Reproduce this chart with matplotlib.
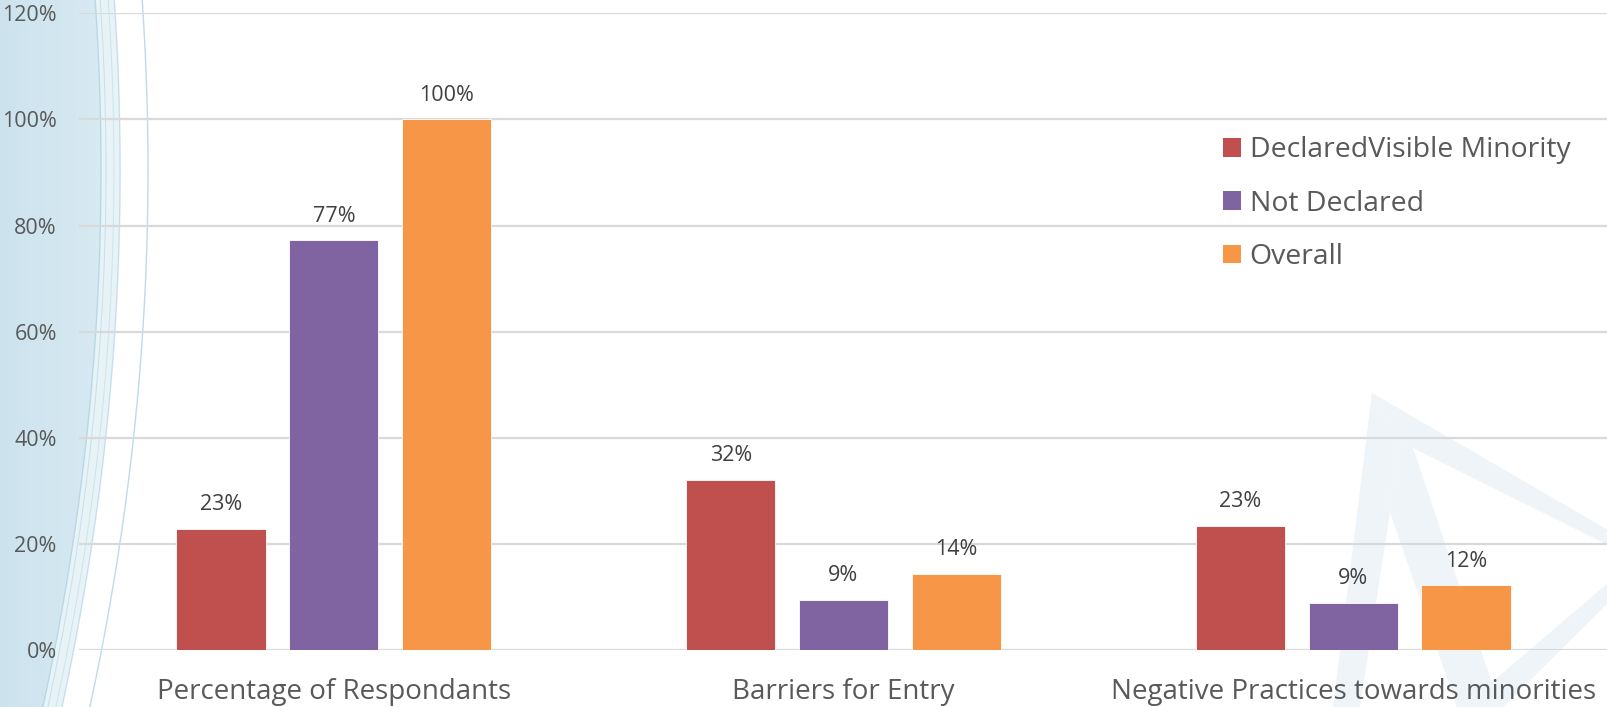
import numpy as np
import matplotlib.pyplot as plt
from matplotlib.patches import Polygon, Patch
from matplotlib.colors import LinearSegmentedColormap

plt.rcParams['font.family'] = ['Open Sans', 'DejaVu Sans']

categories = ["Percentage of Respondants", "Barriers for Entry",
              "Negative Practices towards minorities"]
series_names = ["DeclaredVisible Minority", "Not Declared", "Overall"]
declared = [0.228, 0.32, 0.234]
not_declared = [0.772, 0.094, 0.089]
overall = [1.0, 0.144, 0.122]
y_ticks = [0, 0.2, 0.4, 0.6, 0.8, 1.0, 1.2]

colors = ["#C0504D", "#8064A2", "#F79646"]
text_color = "#595959"

W, H = 1608, 707
fig = plt.figure(figsize=(W / 100, H / 100), dpi=100)

# slide background: blue swoosh on the left, faint logo bottom right
bg = fig.add_axes([0, 0, 1, 1], zorder=0)
bg.set_xlim(0, W)
bg.set_ylim(H, 0)
bg.axis("off")

yy = np.linspace(-5, H + 5, 200)


def arc(peak_x, peak_y=170, radius=2480):
    return peak_x - (yy - peak_y) ** 2 / (2 * radius)


edge = arc(101)
swoosh = np.column_stack([np.r_[0, edge, 0], np.r_[yy[0], yy, yy[-1]]])
grad = np.linspace(0, 1, 256).reshape(1, -1)
cmap = LinearSegmentedColormap.from_list("sw", ["#CCE3EE", "#D8EAF2"])
img = bg.imshow(grad, cmap=cmap, extent=[0, 105, H, 0], aspect="auto", zorder=0)
clip = Polygon(swoosh, closed=True, transform=bg.transData, facecolor="none",
               edgecolor="none")
bg.add_patch(clip)
img.set_clip_path(clip)

band = np.column_stack([np.r_[edge, arc(121)[::-1]], np.r_[yy, yy[::-1]]])
bg.add_patch(Polygon(band, closed=True, facecolor="#E2F0F6", edgecolor="none",
                     alpha=0.8, zorder=0.5))
for off, lw, col in [(0, 1.0, "#B9D8E6"), (5, 0.7, "#C6E0EC"),
                     (13, 0.7, "#CDE4EE"), (19, 0.8, "#C3DEEA"),
                     (47, 1.0, "#C0DBE8")]:
    bg.plot(arc(101 + off), yy, color=col, lw=lw, zorder=0.6)

logo_color = "#EEF4F8"
logo_parts = [
    [(1372, 393), (1333, 707), (1360, 707), (1390, 512), (1397, 437)],
    [(1372, 393), (1608, 530), (1608, 545), (1413, 448), (1397, 437)],
    [(1397, 437), (1413, 448), (1500, 707), (1457, 707), (1390, 512)],
    [(1463, 707), (1608, 583), (1608, 603), (1503, 707)],
]
for pts in logo_parts:
    bg.add_patch(Polygon(pts, closed=True, facecolor=logo_color,
                         edgecolor="none", zorder=0.4))

# clustered bar chart
ax = fig.add_axes([79 / W, 1 - 650 / H, 1 - 79 / W, (650 - 13.3) / H], zorder=1)
ax.patch.set_alpha(0)

x = np.arange(len(categories))
width = 0.175
step = 0.2213
for i, (name, vals) in enumerate(zip(series_names,
                                     [declared, not_declared, overall])):
    pos = x + (i - 1) * step
    bars = ax.bar(pos, vals, width, color=colors[i], label=name,
                  edgecolor="white", linewidth=0.6, zorder=3)
    for b, v in zip(bars, vals):
        ax.annotate(f"{v * 100:.0f}%", (b.get_x() + b.get_width() / 2, v),
                    xytext=(0, 13.5), textcoords="offset points",
                    ha="center", va="baseline", fontsize=15.5,
                    color="#404040")

ax.set_xlim(-0.5, 2.5)
ax.set_ylim(0, 1.2)
ax.set_yticks(y_ticks)
ax.set_yticklabels([f"{t * 100:.0f}%" for t in y_ticks])
ax.set_xticks(x)
ax.set_xticklabels(categories)
ax.tick_params(axis="y", length=0, pad=16, labelsize=15.5, labelcolor=text_color)
ax.tick_params(axis="x", length=0, pad=20, labelsize=20, labelcolor=text_color)
ax.grid(axis="y", color="#D9D9D9", linewidth=1.6, zorder=0)
ax.set_axisbelow(True)
for side in ["top", "right", "left", "bottom"]:
    ax.spines[side].set_visible(False)

handles = [Patch(facecolor=c) for c in colors]
fig.legend(handles, series_names, loc="upper left",
           bbox_to_anchor=(1223 / W, 1 - 136.5 / H), frameon=False,
           fontsize=20.4, labelcolor=text_color, handlelength=0.64,
           handleheight=0.64, handletextpad=0.3, labelspacing=0.89,
           borderpad=0, borderaxespad=0)

fig.savefig("out.png", dpi=100, facecolor="white")
